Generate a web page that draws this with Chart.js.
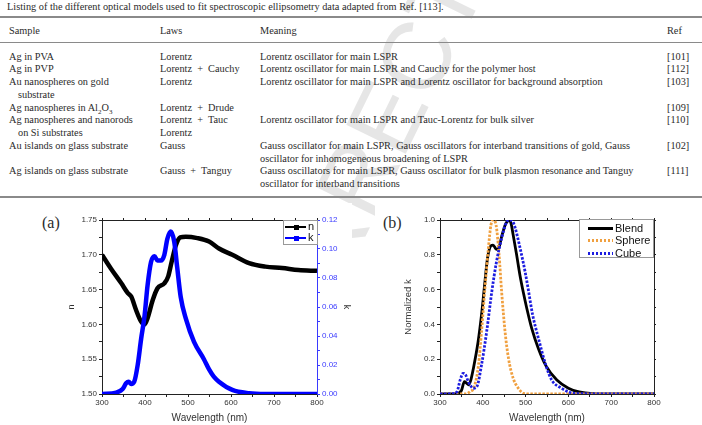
<!DOCTYPE html>
<html>
<head>
<meta charset="utf-8">
<script src="https://cdn.jsdelivr.net/npm/chart.js@4.4.0/dist/chart.umd.min.js"></script>
<style>
body{margin:0;width:702px;height:425px;position:relative;overflow:hidden;background:#fff;font-family:"Liberation Serif",serif;color:#2b2b2b}
.t{position:absolute;font-size:10.3px;line-height:12.7px;white-space:nowrap;z-index:2}
.rule{position:absolute;left:0;width:702px;background:#8a8a8a;z-index:2}
.fig{position:absolute;background:#fff;z-index:3}
.lab{position:absolute;font-size:16px;line-height:18px;z-index:4}
.leg{position:absolute;border:1px solid #999;background:#fff;z-index:5;box-sizing:border-box}
.lt{position:absolute;font-family:"Liberation Sans",sans-serif;font-size:11px;line-height:13px;color:#111;z-index:6}
.ll{position:absolute;z-index:6}
#wm{position:absolute;left:188px;top:470px;transform-origin:0 50%;transform:rotate(-64deg);font-family:"Liberation Sans",sans-serif;font-size:96px;line-height:110px;color:#e6e6e6;white-space:nowrap;z-index:1}
canvas{position:absolute}
</style>
</head>
<body>
<div id="wm">UNCORRECTED PROOF</div>

<div class="t" style="left:7px;top:0.7px">Listing of the different optical models used to fit spectroscopic ellipsometry data adapted from Ref. [113].</div>
<div class="rule" style="top:16px;height:1.6px"></div>
<div class="t" style="left:9px;top:24.6px">Sample</div>
<div class="t" style="left:160px;top:24.6px">Laws</div>
<div class="t" style="left:260px;top:24.6px">Meaning</div>
<div class="t" style="left:667px;top:24.6px">Ref</div>
<div class="rule" style="top:41.5px;height:1px"></div>

<div class="t" style="left:9px;top:50.6px">Ag in PVA</div>
<div class="t" style="left:160px;top:50.6px">Lorentz</div>
<div class="t" style="left:260px;top:50.6px">Lorentz oscillator for main LSPR</div>
<div class="t" style="left:667px;top:50.6px">[101]</div>

<div class="t" style="left:9px;top:63.4px">Ag in PVP</div>
<div class="t" style="left:160px;top:63.4px">Lorentz&nbsp; +&nbsp; Cauchy</div>
<div class="t" style="left:260px;top:63.4px">Lorentz oscillator for main LSPR and Cauchy for the polymer host</div>
<div class="t" style="left:667px;top:63.4px">[112]</div>

<div class="t" style="left:9px;top:76.2px">Au nanospheres on gold<br><span style="padding-left:9px">substrate</span></div>
<div class="t" style="left:160px;top:76.2px">Lorentz</div>
<div class="t" style="left:260px;top:76.2px">Lorentz oscillator for main LSPR and Lorentz oscillator for background absorption</div>
<div class="t" style="left:667px;top:76.2px">[103]</div>

<div class="t" style="left:9px;top:101.6px">Ag nanospheres in Al<sub style="font-size:7px;line-height:0">2</sub>O<sub style="font-size:7px;line-height:0">3</sub></div>
<div class="t" style="left:160px;top:101.6px">Lorentz&nbsp; +&nbsp; Drude</div>
<div class="t" style="left:667px;top:101.6px">[109]</div>

<div class="t" style="left:9px;top:114.4px">Ag nanospheres and nanorods<br><span style="padding-left:9px">on Si substrates</span></div>
<div class="t" style="left:160px;top:114.4px">Lorentz&nbsp; +&nbsp; Tauc<br>Lorentz</div>
<div class="t" style="left:260px;top:114.4px">Lorentz oscillator for main LSPR and Tauc-Lorentz for bulk silver</div>
<div class="t" style="left:667px;top:114.4px">[110]</div>

<div class="t" style="left:9px;top:139.8px">Au islands on glass substrate</div>
<div class="t" style="left:160px;top:139.8px">Gauss</div>
<div class="t" style="left:260px;top:139.8px">Gauss oscillator for main LSPR, Gauss oscillators for interband transitions of gold, Gauss<br>oscillator for inhomogeneous broadening of LSPR</div>
<div class="t" style="left:667px;top:139.8px">[102]</div>

<div class="t" style="left:9px;top:165.2px">Ag islands on glass substrate</div>
<div class="t" style="left:160px;top:165.2px">Gauss&nbsp; +&nbsp; Tanguy</div>
<div class="t" style="left:260px;top:165.2px">Gauss oscillators for main LSPR, Gauss oscillator for bulk plasmon resonance and Tanguy<br>oscillator for interband transitions</div>
<div class="t" style="left:667px;top:165.2px">[111]</div>
<div class="rule" style="top:196px;height:1.6px"></div>

<div class="fig" style="left:35px;top:203px;width:317px;height:222px"></div>
<div class="fig" style="left:375px;top:203px;width:327px;height:222px"></div>
<div class="lab" style="left:42px;top:214px">(a)</div>
<div class="lab" style="left:383px;top:214px">(b)</div>

<canvas id="chartA" width="286" height="220" style="left:66px;top:205px;z-index:4"></canvas>
<canvas id="chartB" width="265" height="220" style="left:403px;top:205px;z-index:4"></canvas>

<div class="leg" style="left:283px;top:220px;width:35px;height:25px"></div>
<div class="ll" style="left:285px;top:226px;width:21px;height:2px;background:#000"></div>
<div class="ll" style="left:294px;top:224.5px;width:5px;height:5px;background:#000"></div>
<div class="lt" style="left:308px;top:220px">n</div>
<div class="ll" style="left:285px;top:237px;width:21px;height:2px;background:#0000ff"></div>
<div class="ll" style="left:294px;top:235.5px;width:5px;height:5px;background:#0000ff"></div>
<div class="lt" style="left:308px;top:231px">k</div>

<div class="leg" style="left:579px;top:219px;width:75px;height:39px"></div>
<div class="ll" style="left:588px;top:226.5px;width:25px;height:3px;background:#000"></div>
<div class="lt" style="left:615px;top:221.5px">Blend</div>
<div class="ll" style="left:588px;top:239px;width:25px;height:3px;background:repeating-linear-gradient(90deg,#f0a040 0 2.5px,transparent 2.5px 4px)"></div>
<div class="lt" style="left:615px;top:234px">Sphere</div>
<div class="ll" style="left:588px;top:251.5px;width:25px;height:3px;background:repeating-linear-gradient(90deg,#1c1ce0 0 2.5px,transparent 2.5px 4px)"></div>
<div class="lt" style="left:615px;top:246.5px">Cube</div>

<script>
// (a) refractive index n and extinction k
const nWave = [300,321,345,360,368,379,391,399,406,418,429,445,454,462,472,482,495,522,549,572,603,642,680,719,757,800];
const nVals = [1.700,1.680,1.659,1.645,1.640,1.621,1.604,1.600,1.609,1.635,1.652,1.659,1.669,1.690,1.714,1.725,1.726,1.724,1.719,1.709,1.700,1.688,1.683,1.681,1.678,1.677];
const kWave = [300,333,348,356,362,368,375,383,391,399,406,414,422,429,437,445,452,460,468,475,483,495,514,537,549,560,572,603,642,680,800];
const kVals = [0,0.001,0.0034,0.0074,0.0085,0.0069,0.0085,0.020,0.038,0.054,0.075,0.091,0.095,0.092,0.092,0.096,0.107,0.112,0.105,0.087,0.067,0.052,0.036,0.024,0.017,0.012,0.0085,0.0028,0.0005,0,0];

// (b) normalized k
const blendWave = [300,340,350,357,362,367,372,378,389,397,405,411,419,424,432,437,444,452,458,462,466,471,479,487,495,503,514,530,548,573,600,625,657,700,800];
const blendVals = [0,0.002,0.02,0.071,0.062,0.053,0.08,0.147,0.30,0.454,0.646,0.78,0.852,0.856,0.831,0.837,0.904,0.97,0.994,1.0,0.98,0.914,0.80,0.68,0.58,0.49,0.38,0.26,0.16,0.08,0.033,0.012,0.002,0,0];
const sphereWave = [300,360,370,380,390,397,405,413,419,424,431,438,444,452,460,471,483,495,510,800];
const sphereVals = [0,0,0.013,0.042,0.167,0.358,0.607,0.837,0.971,1.0,0.971,0.80,0.588,0.358,0.205,0.09,0.033,0.004,0,0];
const cubeWave = [300,330,340,347,354,360,366,372,378,386,397,409,421,432,444,456,463,470,475,487,499,507,516,530,548,561,584,600,619,800];
const cubeVals = [0,0.002,0.015,0.08,0.119,0.11,0.071,0.045,0.033,0.042,0.167,0.358,0.588,0.76,0.895,0.99,1.0,0.99,0.96,0.84,0.70,0.59,0.46,0.32,0.16,0.08,0.033,0.012,0.002,0];

const waveMin = 300, waveMax = 800;

Chart.defaults.font.family = '"Liberation Sans", Arial, sans-serif';
Chart.defaults.animation = false;

function pts(xs, ys){
    return xs.map((x,i) => ({x: x, y: ys[i]}));
}

// label only every "major" step, leave minor ticks blank
function major(step, dec){
    return v => {
        const r = v/step;
        return Math.abs(r - Math.round(r)) < 1e-6 ? v.toFixed(dec) : '';
    };
}

function xAxis(){
    return {
        type:'linear', min:waveMin, max:waveMax,
        ticks:{stepSize:50, autoSkip:false, maxRotation:0, padding:1, font:{size:8}, color:'#333', callback:major(100,0)},
        grid:{drawOnChartArea:false, tickLength:3, color:'#222'},
        border:{color:'#222', width:1},
        title:{display:true, text:'Wavelength (nm)', font:{size:10}, color:'#333', padding:{top:0,bottom:1}},
        afterFit: s => { s.height = 31; }
    };
}

function topAxis(){
    return {
        type:'linear', position:'top', min:waveMin, max:waveMax,
        ticks:{display:false, stepSize:50},
        grid:{drawOnChartArea:false, tickLength:2, color:'#222'},
        border:{color:'#222', width:1},
        afterFit: s => { s.height = 0; }
    };
}

new Chart(document.getElementById('chartA'), {
    type:'line',
    data:{
        datasets:[
            {label:'k', data:pts(kWave,kVals), borderColor:'#0000ff', borderWidth:4.5, pointRadius:0, yAxisID:'k', cubicInterpolationMode:'monotone'},
            {label:'n', data:pts(nWave,nVals), borderColor:'#000', borderWidth:4.5, pointRadius:0, yAxisID:'y', cubicInterpolationMode:'monotone'}
        ]
    },
    options:{
        responsive:false,
        layout:{padding:{top:15}},
        plugins:{legend:{display:false}, tooltip:{enabled:false}},
        scales:{
            x: xAxis(),
            x2: topAxis(),
            y:{
                position:'left', min:1.5, max:1.75,
                ticks:{stepSize:0.025, autoSkip:false, padding:2, font:{size:8}, color:'#333', callback:major(0.05,2)},
                grid:{drawOnChartArea:false, tickLength:3, color:'#222'},
                border:{color:'#222'},
                title:{display:true, text:'n', font:{size:9}, color:'#333', padding:{top:0,bottom:0}},
                afterFit: s => { s.width = 36; }
            },
            k:{
                position:'right', min:0, max:0.12,
                ticks:{stepSize:0.01, autoSkip:false, padding:2, font:{size:8}, color:'#3a3aff', callback:major(0.02,2)},
                grid:{drawOnChartArea:false, tickLength:3, color:'#3a3aff'},
                border:{color:'#3a3aff'},
                title:{display:true, text:'k', font:{size:9}, color:'#333', padding:{top:0,bottom:0}},
                afterFit: s => { s.width = 35; }
            }
        }
    }
});

new Chart(document.getElementById('chartB'), {
    type:'line',
    data:{
        datasets:[
            {label:'Blend', data:pts(blendWave,blendVals), borderColor:'#000', borderWidth:2.8, pointRadius:0, order:3, cubicInterpolationMode:'monotone'},
            {label:'Sphere', data:pts(sphereWave,sphereVals), borderColor:'#f0a040', borderWidth:2.8, borderDash:[2.5,1.5], pointRadius:0, order:2, cubicInterpolationMode:'monotone'},
            {label:'Cube', data:pts(cubeWave,cubeVals), borderColor:'#1c1ce0', borderWidth:2.8, borderDash:[2.5,1.5], pointRadius:0, order:1, cubicInterpolationMode:'monotone'}
        ]
    },
    options:{
        responsive:false,
        layout:{padding:{top:15, right:14}},
        plugins:{legend:{display:false}, tooltip:{enabled:false}},
        scales:{
            x: xAxis(),
            x2: topAxis(),
            y:{
                position:'left', min:0, max:1,
                ticks:{stepSize:0.1, autoSkip:false, padding:2, font:{size:8}, color:'#333', callback:major(0.2,1)},
                grid:{drawOnChartArea:false, tickLength:3, color:'#222'},
                border:{color:'#222'},
                title:{display:true, text:'Normalized k', font:{size:9.5}, color:'#333', padding:{top:0,bottom:0}},
                afterFit: s => { s.width = 37; }
            },
            y2:{
                position:'right', min:0, max:1,
                ticks:{display:false, stepSize:0.1},
                grid:{drawOnChartArea:false, tickLength:2, color:'#222'},
                border:{color:'#222'},
                afterFit: s => { s.width = 0; }
            }
        }
    }
});
</script>
</body>
</html>
